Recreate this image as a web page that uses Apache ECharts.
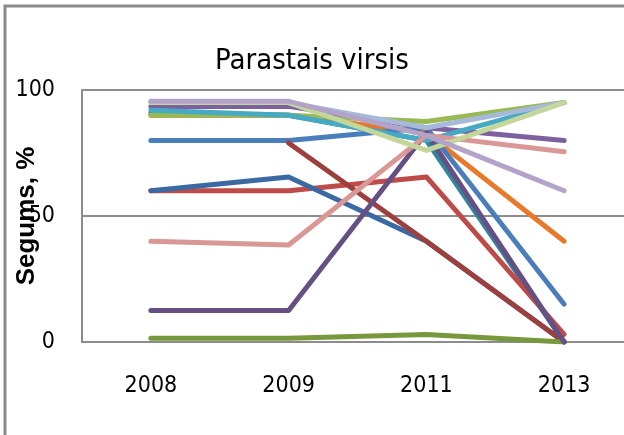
<!DOCTYPE html>
<html>
<head>
<meta charset="utf-8">
<script src="https://cdn.jsdelivr.net/npm/echarts@6/dist/echarts.min.js"></script>
<style>
  html, body { margin: 0; padding: 0; background: #fff; }
  #chart { width: 624px; height: 435px; }
</style>
</head>
<body>
<div id="chart"></div>
<script>
  // categories and axis ticks
  var years = ['2008', '2009', '2011', '2013']
  var yTicks = [0, 50, 100]

  // series values, %
  var blue = [80, 80, 85, 15]
  var red = [60, 60, 65.5, 3]
  var green = [90, 90, 87.5, 95]
  var purple = [93.5, 93.5, 85, 80]
  var teal = [91, 90, 80, 0]
  var orange = [90, 90, 83, 40]
  var steelBlue = [60, 65.5, 40, 0]
  var darkRed = ['-', 79, 40, 0]
  var olive = [1.5, 1.5, 3, 0]
  var darkPurple = [12.5, 12.5, 83, 0]
  var aqua = [92, 90, 80, 95]
  var pink = [40, 38.5, 82, 75.5]
  var lightBlue = [95, 95, 85, 95]
  var lightGreen = [95, 95, 76, 95]
  var lavender = [95.5, 95.5, 82, 60]

  // drawing order: later entries sit on top
  var lines = [
    { data: orange, color: '#E8792A' },
    { data: teal, color: '#31879E' },
    { data: blue, color: '#4A7EBB' },
    { data: red, color: '#BE4B48' },
    { data: green, color: '#98B954' },
    { data: purple, color: '#7D60A0' },
    { data: steelBlue, color: '#3B6AA3' },
    { data: darkRed, color: '#9C3F3D' },
    { data: olive, color: '#78983E' },
    { data: darkPurple, color: '#654F83' },
    { data: aqua, color: '#46AAC5' },
    { data: pink, color: '#D99795' },
    { data: lightBlue, color: '#A7B9DA' },
    { data: lightGreen, color: '#C4D79B' },
    { data: lavender, color: '#B3A3C8' }
  ]

  var narrow = '"Liberation Sans Narrow", "DejaVu Sans Condensed", "Liberation Sans", sans-serif'

  var chart = echarts.init(document.getElementById('chart'))
  chart.setOption({
    animation: false,
    title: {
      text: 'Parastais virsis',
      left: 'center',
      top: 42,
      textStyle: {
        fontFamily: narrow,
        fontSize: 29,
        fontWeight: 'normal',
        color: '#000'
      }
    },
    graphic: [{
      type: 'polyline',
      shape: { points: [[5, 435], [5, 6], [624, 6]] },
      style: { stroke: '#8A8A8A', lineWidth: 3, fill: null }
    }],
    grid: {
      left: 82,
      top: 90,
      width: 551,
      height: 252,
      containLabel: false,
      outerBoundsMode: 'none'
    },
    xAxis: {
      type: 'category',
      data: years,
      boundaryGap: true,
      axisTick: { show: false },
      axisLine: { lineStyle: { color: '#8C8C8C', width: 2 } },
      axisLabel: {
        margin: 33,
        fontFamily: narrow,
        fontSize: 23,
        color: '#000'
      }
    },
    yAxis: {
      type: 'value',
      min: yTicks[0],
      max: yTicks[yTicks.length - 1],
      interval: yTicks[1] - yTicks[0],
      name: 'Segums, %',
      nameLocation: 'middle',
      nameRotate: 90,
      nameGap: 42,
      nameMoveOverlap: false,
      nameTextStyle: {
        fontFamily: '"Liberation Sans", sans-serif',
        fontSize: 26,
        fontWeight: 'bold',
        color: '#000'
      },
      axisTick: { show: false },
      axisLine: { show: true, lineStyle: { color: '#8C8C8C', width: 2 } },
      splitLine: { lineStyle: { color: '#8C8C8C', width: 2 } },
      axisLabel: {
        margin: 27,
        fontFamily: narrow,
        fontSize: 23,
        color: '#000'
      }
    },
    series: lines.map(function (s) {
      return {
        type: 'line',
        data: s.data,
        showSymbol: false,
        symbol: 'none',
        connectNulls: false,
        lineStyle: { color: s.color, width: 5, cap: 'round', join: 'round' },
        itemStyle: { color: s.color }
      }
    })
  })
</script>
</body>
</html>
